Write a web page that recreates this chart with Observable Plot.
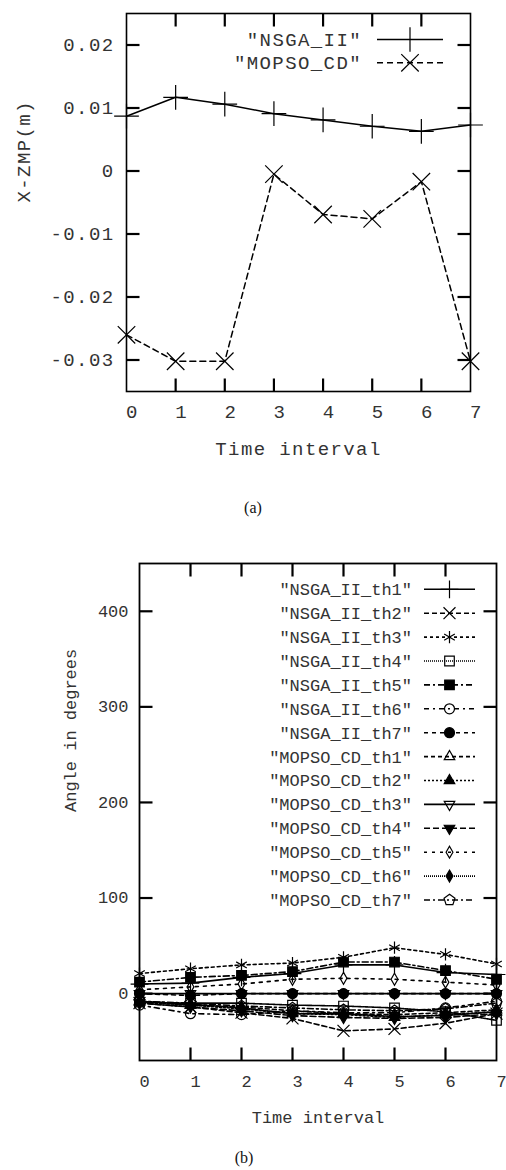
<!DOCTYPE html>
<html><head><meta charset="utf-8">
<script src="https://cdn.jsdelivr.net/npm/d3@7"></script>
<script src="https://cdn.jsdelivr.net/npm/@observablehq/plot@0.6"></script>
<style>
body{margin:0;background:#fff;}
#wrap{position:relative;width:506px;height:1170px;overflow:hidden;background:#fff;}
#wrap svg{position:absolute;left:0;}
.cap{position:absolute;font-family:"Liberation Serif",serif;font-size:16px;color:#111;transform:translate(-50%,-50%);}
</style></head><body><div id="wrap"></div>
<script>
// ---------- DATA ----------
const timeIntervals = [0, 1, 2, 3, 4, 5, 6, 7];
const innerTicks = [1, 2, 3, 4, 5, 6];
const xTickLabels = ["0", "1", "2", "3", "4", "5", "6", "7"];

// chart (a)
const zmpNSGA  = [0.0087, 0.0117, 0.0106, 0.0091, 0.0081, 0.0071, 0.0063, 0.0073];
const zmpMOPSO = [-0.0260, -0.0302, -0.0302, -0.0005, -0.0069, -0.0076, -0.0017, -0.0302];
const zmpNames = ['"NSGA_II"', '"MOPSO_CD"'];
const zmpYTicks = [-0.03, -0.02, -0.01, 0, 0.01, 0.02];
const zmpYTickLabels = ["-0.03", "-0.02", "-0.01", "0", "0.01", "0.02"];

// chart (b)
const nsga_th1  = [10, 11, 17, 21, 30, 30, 22, 20];
const nsga_th2  = [-10, -14, -20, -26, -39, -37, -31, -21];
const nsga_th3  = [21, 26, 30, 32, 38, 48, 41, 31];
const nsga_th4  = [-9, -10, -10, -12, -13, -15, -19, -28];
const nsga_th5  = [12, 17, 19, 23, 33, 33, 24, 15];
const nsga_th6  = [-12, -21, -22, -18, -20, -20, -15, -8];
const nsga_th7  = [0, -2, 0, 0, 0, 0, 0, 0];
const mopso_th1 = [-8, -12, -14, -18, -21, -22, -20, -17];
const mopso_th2 = [-9, -12, -16, -21, -22, -25, -22, -19];
const mopso_th3 = [0, 0, 0, 0, 0, 0, 0, 0];
const mopso_th4 = [-10, -14, -18, -23, -25, -26, -25, -21];
const mopso_th5 = [4, 7, 10, 15, 16, 15, 12, 9];
const mopso_th6 = [-8, -11, -15, -21, -21, -24, -23, -19];
const mopso_th7 = [-8, -10, -13, -15, -17, -18, -16, -10];
const angleNames = ['"NSGA_II_th1"', '"NSGA_II_th2"', '"NSGA_II_th3"', '"NSGA_II_th4"', '"NSGA_II_th5"', '"NSGA_II_th6"', '"NSGA_II_th7"',
  '"MOPSO_CD_th1"', '"MOPSO_CD_th2"', '"MOPSO_CD_th3"', '"MOPSO_CD_th4"', '"MOPSO_CD_th5"', '"MOPSO_CD_th6"', '"MOPSO_CD_th7"'];
const angleValues = [nsga_th1, nsga_th2, nsga_th3, nsga_th4, nsga_th5, nsga_th6, nsga_th7,
  mopso_th1, mopso_th2, mopso_th3, mopso_th4, mopso_th5, mopso_th6, mopso_th7];
const angleYTicks = [0, 100, 200, 300, 400];
const angleYTickLabels = ["0", "100", "200", "300", "400"];

// ---------- STYLES ----------
const INK = "#000000";
const TXT = "#333333";
const MONO = '"Liberation Mono", "DejaVu Sans Mono", monospace';

const symbolPentagon = {
  draw(ctx, size) {
    const r = Math.sqrt(size / (2.5 * Math.sin(2 * Math.PI / 5)));
    for (let k = 0; k < 5; k++) {
      const a = -Math.PI / 2 + k * 2 * Math.PI / 5;
      const px = r * Math.cos(a), py = r * Math.sin(a);
      if (k === 0) ctx.moveTo(px, py); else ctx.lineTo(px, py);
    }
    ctx.closePath();
  }
};
const d3Sym = {plus: d3.symbolPlus, times: d3.symbolTimes, asterisk: d3.symbolAsterisk, square: d3.symbolSquare,
  circle: d3.symbolCircle, triangle: d3.symbolTriangle, diamond: d3.symbolDiamond, pentagon: symbolPentagon};
const symR = {plus: 5.8, times: 5.5, asterisk: 5.8, square: 5.4, circle: 5, triangle: 3.9, diamond: 3.6, pentagon: 5};

const zmpStyles = [
  {dash: null, symbol: "plus", fill: "none"},
  {dash: "6,4", symbol: "times", fill: "none"}
];
const angleStyles = [
  {dash: null, symbol: "plus", fill: "none"},
  {dash: "5,3", symbol: "times", fill: "none"},
  {dash: "3,3", symbol: "asterisk", fill: "none"},
  {dash: "1,1", symbol: "square", fill: "none"},
  {dash: "6,3,2,3", symbol: "square", fill: INK},
  {dash: "5,4,2,4", symbol: "circle", fill: "none"},
  {dash: "4,4", symbol: "circle", fill: INK},
  {dash: "4,3", symbol: "triangle", fill: "none"},
  {dash: "2,2", symbol: "triangle", fill: INK},
  {dash: null, symbol: "triangle", fill: "none", rotate: 180},
  {dash: "6,3", symbol: "triangle", fill: INK, rotate: 180},
  {dash: "3,5", symbol: "diamond", fill: "none"},
  {dash: "1,1", symbol: "diamond", fill: INK},
  {dash: "6,3,2,3", symbol: "pentagon", fill: "none"}
];

// inward mirrored tick marks: each is drawn as a short line segment
// whose ends come from the scale domain (len px converted to data units)
function frameTicks(xt, yt, xDom, yDom, fw, fh, len) {
  const dyData = (yDom[1] - yDom[0]) * len / fh;
  const dxData = (xDom[1] - xDom[0]) * len / fw;
  const segs = [];
  xt.forEach(v => {
    segs.push({k: "b" + v, x: v, y: yDom[0]}, {k: "b" + v, x: v, y: yDom[0] + dyData});
    segs.push({k: "t" + v, x: v, y: yDom[1] - dyData}, {k: "t" + v, x: v, y: yDom[1]});
  });
  yt.forEach(v => {
    segs.push({k: "l" + v, x: xDom[0], y: v}, {k: "l" + v, x: xDom[0] + dxData, y: v});
    segs.push({k: "r" + v, x: xDom[1] - dxData, y: v}, {k: "r" + v, x: xDom[1], y: v});
  });
  return [Plot.line(segs, {x: "x", y: "y", z: "k", stroke: INK, strokeWidth: 2.2, strokeLinecap: "butt"})];
}

function seriesMarks(values, st, r, sw) {
  const sym = st.symbol === "pentagon" ? symbolPentagon : st.symbol;
  return [
    Plot.line(timeIntervals, {x: d => d, y: (d, i) => values[i], stroke: INK, strokeWidth: sw, strokeDasharray: st.dash || undefined}),
    Plot.dot(timeIntervals, {x: d => d, y: (d, i) => values[i], symbol: sym, r, stroke: INK, strokeWidth: 1.2,
      fill: st.fill, rotate: st.rotate || 0})
  ];
}

function addLegend(svg, names, styles, o) {
  const g = d3.select(svg).append("g");
  names.forEach((name, i) => {
    const y = o.y0 + i * o.dy;
    const st = styles[i];
    const r = o.r || symR[st.symbol];
    g.append("text").attr("x", o.textRight).attr("y", y).attr("text-anchor", "end").attr("dy", "0.35em")
      .attr("font-family", MONO).attr("font-size", o.fontSize).attr("fill", TXT)
      .style("letter-spacing", o.ls || "0px").text(name);
    g.append("line").attr("x1", o.l1).attr("x2", o.l2).attr("y1", y).attr("y2", y)
      .attr("stroke", INK).attr("stroke-width", o.sw).attr("stroke-dasharray", st.dash || null);
    g.append("path").attr("d", d3.symbol(d3Sym[st.symbol], r * r * Math.PI)())
      .attr("transform", `translate(${o.mx},${y}) rotate(${st.rotate || 0})`)
      .attr("fill", st.fill).attr("stroke", INK).attr("stroke-width", 1.2);
  });
}

const wrap = document.getElementById("wrap");

// ---------- CHART (a) ----------
const fsA = 19;
const A = {w: 506, h: 480, ml: 126, mr: 36, mt: 13, mb: 89};
const xDomA = [0, 7], yDomA = [-0.035, 0.025];
const plotA = Plot.plot({
  width: A.w, height: A.h,
  marginLeft: A.ml, marginRight: A.mr, marginTop: A.mt, marginBottom: A.mb,
  x: {domain: xDomA, axis: null},
  y: {domain: yDomA, axis: null},
  style: {background: "white", overflow: "visible"},
  marks: [
    Plot.frame({stroke: INK, strokeWidth: 1.6}),
    ...frameTicks(innerTicks, zmpYTicks, xDomA, yDomA, A.w - A.ml - A.mr, A.h - A.mt - A.mb, 13),
    Plot.text(timeIntervals, {x: d => d, text: (d, i) => xTickLabels[i], frameAnchor: "bottom", dy: 26, dx: 6,
      fontFamily: MONO, fontSize: fsA, fill: TXT}),
    Plot.text(zmpYTicks, {y: d => d, text: (d, i) => zmpYTickLabels[i], frameAnchor: "left", dx: -12, textAnchor: "end",
      fontFamily: MONO, fontSize: fsA, fill: TXT}),
    Plot.text(["Time interval"], {frameAnchor: "bottom", dy: 63, text: d => d, fontFamily: MONO, fontSize: fsA, fill: TXT}),
    Plot.text(["X-ZMP(m)"], {frameAnchor: "left", dx: -103, rotate: -90, text: d => d, fontFamily: MONO, fontSize: fsA, fill: TXT}),
    ...seriesMarks(zmpNSGA, zmpStyles[0], 8, 1.5),
    ...seriesMarks(zmpMOPSO, zmpStyles[1], 8, 1.5)
  ]
});
plotA.style.top = "0px";
addLegend(plotA, zmpNames, zmpStyles, {y0: 39.5, dy: 23.3, textRight: 362, l1: 377, l2: 443, mx: 410, r: 8, sw: 1.5, fontSize: fsA, ls: "1.4px"});
plotA.querySelectorAll("text").forEach(t => t.style.letterSpacing = "1.4px");
wrap.appendChild(plotA);

// ---------- CHART (b) ----------
const fsB = 17;
const topB = 540;
const B = {w: 506, h: 600, ml: 139, mr: 10, mt: 23, mb: 80};
const xDomB = [0, 7], yDomB = [-70, 450];
const marksB = [];
angleValues.forEach((vals, i) => marksB.push(...seriesMarks(vals, angleStyles[i], symR[angleStyles[i].symbol], 1.6)));
const plotB = Plot.plot({
  width: B.w, height: B.h,
  marginLeft: B.ml, marginRight: B.mr, marginTop: B.mt, marginBottom: B.mb,
  x: {domain: xDomB, axis: null},
  y: {domain: yDomB, axis: null},
  style: {background: "white", overflow: "visible"},
  marks: [
    Plot.frame({stroke: INK, strokeWidth: 1.8}),
    ...frameTicks(innerTicks, angleYTicks, xDomB, yDomB, B.w - B.ml - B.mr, B.h - B.mt - B.mb, 13),
    Plot.text(timeIntervals, {x: d => d, text: (d, i) => xTickLabels[i], frameAnchor: "bottom", dy: 26, dx: 5,
      fontFamily: MONO, fontSize: fsB, fill: TXT}),
    Plot.text(angleYTicks, {y: d => d, text: (d, i) => angleYTickLabels[i], frameAnchor: "left", dx: -11, textAnchor: "end",
      fontFamily: MONO, fontSize: fsB, fill: TXT}),
    Plot.text(["Time interval"], {frameAnchor: "bottom", dy: 62, text: d => d, fontFamily: MONO, fontSize: fsB, fill: TXT}),
    Plot.text(["Angle in degrees"], {frameAnchor: "left", dx: -69, rotate: -90, text: d => d, fontFamily: MONO, fontSize: fsB, fill: TXT}),
    ...marksB
  ]
});
plotB.style.top = topB + "px";
addLegend(plotB, angleNames, angleStyles, {y0: 49.3, dy: 23.9, textRight: 412, l1: 424, l2: 475, mx: 449.5, sw: 1.6, fontSize: fsB});
wrap.appendChild(plotB);

// ---------- captions ----------
const capA = document.createElement("div");
capA.className = "cap"; capA.style.left = "253px"; capA.style.top = "508px"; capA.textContent = "(a)";
wrap.appendChild(capA);
const capB = document.createElement("div");
capB.className = "cap"; capB.style.left = "244px"; capB.style.top = "1158px"; capB.textContent = "(b)";
wrap.appendChild(capB);
</script></body></html>
